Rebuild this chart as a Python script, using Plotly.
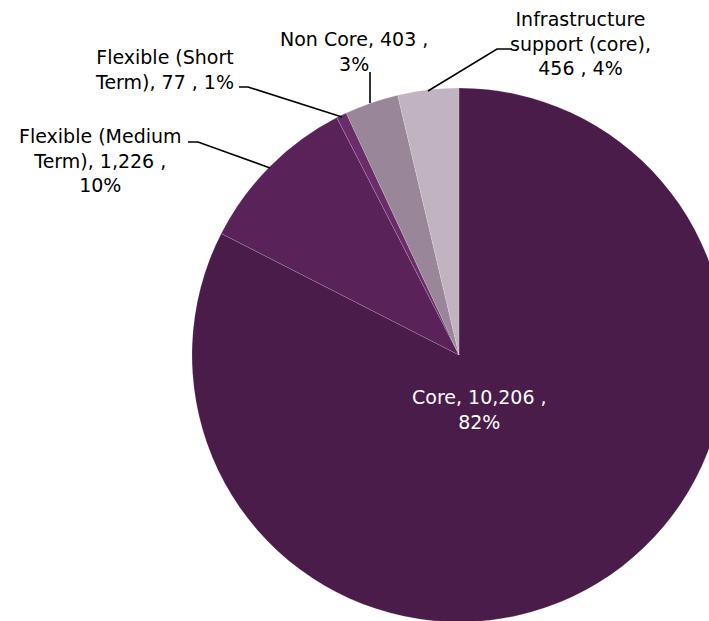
import plotly.graph_objects as go

# ---- data ----
categories = ["Core", "Flexible (Medium Term)", "Flexible (Short Term)", "Non Core",
              "Infrastructure support (core)"]
values = [10206, 1226, 77, 403, 456]
percent_labels = ["82%", "10%", "1%", "3%", "4%"]
colors = ["#4a1c49", "#592259", "#6b2d69", "#9a8699", "#c1b4c0"]

W, H = 730, 624
FONT = "DejaVu Sans"
FS = 19

def X(px):
    return px / W

def Y(py):
    return 1 - py / H

fig = go.Figure()
fig.add_trace(go.Pie(
    labels=categories,
    values=values,
    sort=False,
    direction="clockwise",
    rotation=0,
    textinfo="none",
    hoverinfo="label+value+percent",
    marker=dict(colors=colors, line=dict(color="rgba(255,255,255,0.25)", width=0.6)),
    domain=dict(x=[X(192), X(726)], y=[max(0, Y(622)), Y(88)]),
    showlegend=False,
))

def fmt(v):
    return f"{v:,}"

# label texts built from data
texts = [
    f"{categories[0]}, {fmt(values[0])} ,<br>{percent_labels[0]}",
    f"Flexible (Medium<br>Term), {fmt(values[1])} ,<br>{percent_labels[1]}",
    f"Flexible (Short<br>Term), {fmt(values[2])} , {percent_labels[2]}",
    f"{categories[3]}, {fmt(values[3])} ,<br>{percent_labels[3]}",
    f"Infrastructure<br>support (core),<br>{fmt(values[4])} , {percent_labels[4]}",
]
# label centres in pixels (layout)
label_pos = [(479, 409), (100, 160), (164, 69), (354, 51), (580, 44)]
label_colors = ["white", "black", "black", "black", "black"]

for t, (px, py), c in zip(texts, label_pos, label_colors):
    fig.add_annotation(
        x=X(px), y=Y(py), xref="paper", yref="paper",
        text=t, showarrow=False, xanchor="center", yanchor="middle",
        font=dict(family=FONT, size=FS, color=c), align="center",
    )

# leader lines (pixels)
leaders = [
    [(188, 142), (198, 142), (270, 168)],
    [(239, 87), (248, 87), (342, 117)],
    [(370, 72), (370, 103)],
    [(512, 49), (497, 49), (428, 91)],
]
for pts in leaders:
    path = "M " + " L ".join(f"{X(x):.5f},{Y(y):.5f}" for x, y in pts)
    fig.add_shape(type="path", path=path, xref="paper", yref="paper",
                  line=dict(color="black", width=1.6))

fig.update_layout(
    width=W, height=H,
    margin=dict(l=0, r=0, t=0, b=0),
    paper_bgcolor="white", plot_bgcolor="white",
    font=dict(family=FONT, size=FS),
)

fig.write_html(
    "out.html",
    config={"displayModeBar": False},
    post_script="document.body.style.margin='0';document.body.style.overflow='hidden';",
)
